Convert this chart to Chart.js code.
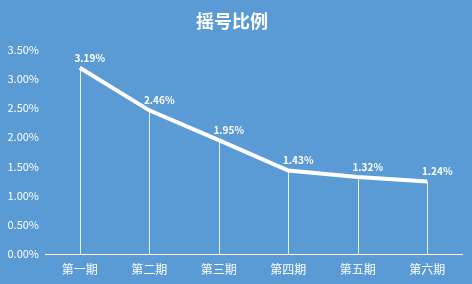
<!DOCTYPE html>
<html>
<head>
<meta charset="utf-8">
<script src="https://cdn.jsdelivr.net/npm/chart.js@4"></script>
<style>
  html, body { margin: 0; padding: 0; background: #5b9bd5; }
  #wrap { width: 472px; height: 284px; }
</style>
</head>
<body>
<div id="wrap"><canvas id="chart" width="472" height="284"></canvas></div>
<script>
const periods = ["第一期", "第二期", "第三期", "第四期", "第五期", "第六期"];
const ratios = [3.19, 2.46, 1.95, 1.43, 1.32, 1.24];
const chartTitle = "摇号比例";

const FONT = "'Noto Sans CJK SC', 'Noto Sans', sans-serif";

// white drop lines from each point down to the axis, plus value labels
const dropLines = {
  id: "dropLines",
  beforeDatasetsDraw(chart) {
    const { ctx, scales } = chart;
    const base = scales.y.getPixelForValue(0);
    ctx.save();
    ctx.strokeStyle = "rgba(255,255,255,0.85)";
    ctx.lineWidth = 1;
    chart.getDatasetMeta(0).data.forEach(pt => {
      const x = Math.round(pt.x) + 0.5;
      ctx.beginPath();
      ctx.moveTo(x, pt.y);
      ctx.lineTo(x, base);
      ctx.stroke();
    });
    ctx.restore();
  },
  afterDatasetsDraw(chart) {
    const { ctx } = chart;
    ctx.save();
    ctx.fillStyle = "#ffffff";
    ctx.font = "bold 10px " + FONT;
    ctx.textAlign = "center";
    ctx.textBaseline = "bottom";
    chart.getDatasetMeta(0).data.forEach((pt, i) => {
      ctx.fillText(ratios[i].toFixed(2) + "%", pt.x + 10, pt.y - 5);
    });
    ctx.restore();
  }
};

new Chart(document.getElementById("chart"), {
  type: "line",
  data: {
    labels: periods,
    datasets: [{
      data: ratios,
      borderColor: "#ffffff",
      borderWidth: 4,
      pointRadius: 0,
      tension: 0,
      fill: false
    }]
  },
  options: {
    responsive: false,
    animation: false,
    layout: { padding: { left: 2, right: 10, top: 0, bottom: 0 } },
    plugins: {
      legend: { display: false },
      tooltip: { enabled: false },
      title: {
        display: true,
        text: chartTitle,
        color: "#ffffff",
        font: { family: FONT, size: 18, weight: "bold" },
        padding: { top: 10, bottom: 18 }
      }
    },
    scales: {
      x: {
        offset: true,
        grid: { display: false, drawTicks: false },
        border: { color: "#ffffff", width: 1 },
        ticks: { color: "#ffffff", font: { family: FONT, size: 12 }, padding: 8 },
        afterFit(axis) { axis.height = 30; }
      },
      y: {
        min: 0,
        max: 3.5,
        grid: { display: false, drawTicks: false },
        border: { display: false },
        ticks: {
          stepSize: 0.5,
          color: "#ffffff",
          font: { family: FONT, size: 11 },
          padding: 6,
          callback: v => v.toFixed(2) + "%"
        },
        afterFit(axis) { axis.width = 43; }
      }
    }
  },
  plugins: [dropLines]
});
</script>
</body>
</html>
